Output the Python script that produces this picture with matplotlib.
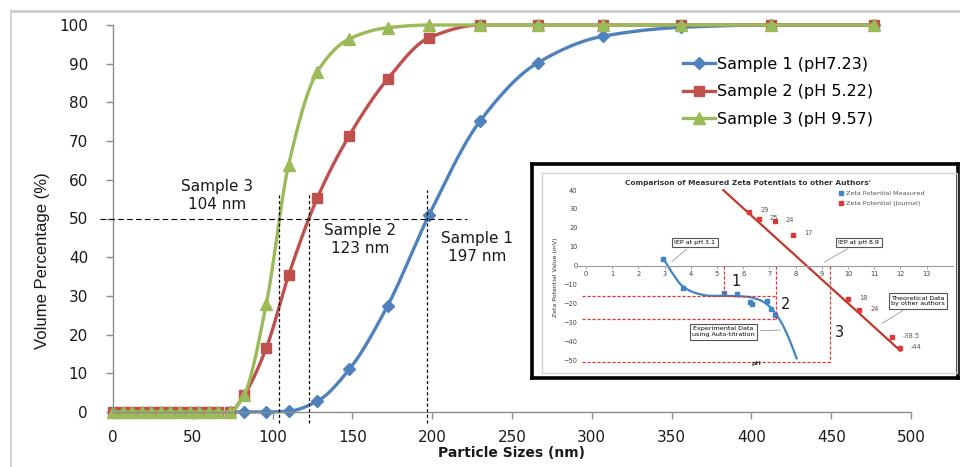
import matplotlib
matplotlib.use("Agg")
import matplotlib.pyplot as plt
import numpy as np
from matplotlib.lines import Line2D
from matplotlib.patches import Rectangle

BLUE = "#4f81bd"; RED = "#c0504d"; GREEN = "#9bbb59"; AXC = "#8c8c8c"; INK = "#1a1a1a"

# main chart: cumulative volume distribution
zero_sizes = [0, 6, 12, 18, 24, 30, 36, 42, 48, 54, 60, 66, 73]
sizes = [82, 96, 110, 128, 148, 172, 198, 230, 266, 307, 356, 412, 477]
sample1 = [0, 0, 0.2, 2.8, 11, 27.4, 50.9, 75.2, 90.2, 97.1, 99.4, 100, 100]
sample2 = [4.3, 16.5, 35.3, 55.3, 71.4, 86, 96.7, 100, 100, 100, 100, 100, 100]
sample3 = [4.3, 27.8, 63.8, 87.9, 96.4, 99.3, 100, 100, 100, 100, 100, 100, 100]
labels = ["Sample 1 (pH7.23)", "Sample 2 (pH 5.22)", "Sample 3 (pH 9.57)"]
d50 = [197, 123, 104]
d50_top = [57.4, 56.6, 56.1]
d50_text = ["Sample 1\n197 nm", "Sample 2\n123 nm", "Sample 3\n104 nm"]
d50_text_xy = [(228, 42.6), (155, 44.5), (65, 56)]

# inset: zeta potential vs pH
meas_ph = [2.93, 3.69, 5.28, 5.75, 6.26, 6.32, 6.92, 7.05, 7.21]
meas_mv = [3.7, -11.6, -14.3, -15.2, -19, -20, -18.5, -23, -26]
trend_ph = [2.95, 3.3, 3.7, 4.22, 4.73, 5.5, 6.13, 6.64, 7.02, 7.4, 7.72, 8.04]
trend_mv = [4, -4, -11, -14.6, -15.9, -16.0, -16.4, -18.2, -21.7, -28.7, -37.6, -49]
jour_ph = [6.22, 6.59, 7.21, 7.91, 9.99, 10.43, 11.67, 11.98]
jour_mv = [28.6, 24.5, 23.6, 16.4, -17.8, -23.5, -37.9, -43.7]
jour_lab = ["29", "25", "24", "17", "18", "24", "-38.5", "-44"]
jour_fit_ph = [5.24, 12.0]
jour_fit_mv = [40, -45]
box_mv = [-15.9, -28.2, -50.8]
box_ph = [5.28, 7.25, 9.31]
box_right = [7.2, 7.25, 9.31]
box_num = ["1", "2", "3"]
box_num_xy = [(5.73, -8.6), (7.63, -20.5), (9.67, -35.5)]


def smooth(x, y, n=40):
    # monotone cubic through the points (Excel-like smoothed line without overshoot)
    x = np.asarray(x, float); y = np.asarray(y, float)
    h = np.diff(x); d = np.diff(y) / h
    m = np.zeros_like(y); m[0] = d[0]; m[-1] = d[-1]
    for i in range(1, len(x) - 1):
        if d[i - 1] * d[i] <= 0:
            m[i] = 0
        else:
            w1 = 2 * h[i] + h[i - 1]; w2 = h[i] + 2 * h[i - 1]
            m[i] = (w1 + w2) / (w1 / d[i - 1] + w2 / d[i])
    t = np.linspace(0, 1, n)
    xs, ys = [], []
    for i in range(len(h)):
        h00 = 2 * t**3 - 3 * t**2 + 1; h10 = t**3 - 2 * t**2 + t
        h01 = -2 * t**3 + 3 * t**2; h11 = t**3 - t**2
        xs.append(x[i] + t * h[i])
        ys.append(h00 * y[i] + h10 * h[i] * m[i] + h01 * y[i + 1] + h11 * h[i] * m[i + 1])
    return np.concatenate(xs), np.concatenate(ys)


W, H = 960, 467
fig = plt.figure(figsize=(W / 100, H / 100), dpi=100)
fig.patch.set_facecolor("white")


def fx(px):
    return px / W


def fy(py):
    return 1 - py / H


ax = fig.add_axes([fx(113), fy(412), fx(911) - fx(113), fy(25) - fy(412)])
ax.set_xlim(0, 500); ax.set_ylim(0, 100)
for s in ("top", "right"):
    ax.spines[s].set_visible(False)
for s in ("left", "bottom"):
    ax.spines[s].set_color(AXC); ax.spines[s].set_linewidth(1.0)
ax.set_xticks(np.arange(0, 501, 50)); ax.set_yticks(np.arange(0, 101, 10))
ax.tick_params(axis="both", colors=AXC, labelcolor=INK, length=5, width=1.0, labelsize=11)
ax.tick_params(axis="y", pad=13)
ax.tick_params(axis="x", pad=8)

series = [
    ([zero_sizes[-1]] + sizes, [0] + sample1, BLUE, "D", 6.5),
    (zero_sizes + sizes, [0] * len(zero_sizes) + sample2, RED, "s", 7.5),
    (zero_sizes + sizes, [0] * len(zero_sizes) + sample3, GREEN, "^", 8.5),
]
handles = []
for (xv, yv, c, mk, ms), lab in zip(series, labels):
    sx, sy = smooth(xv, yv)
    ax.plot(sx, sy, color=c, lw=2.4, clip_on=False, solid_capstyle="round")
    ax.plot(xv, yv, ls="none", marker=mk, ms=ms, color=c, mec=c, clip_on=False)
    handles.append(Line2D([], [], color=c, lw=2.4, marker=mk, ms=ms, mec=c))

# d50 guides
ax.plot([-8, 222], [50, 50], ls=(0, (5, 3)), color="black", lw=0.8, clip_on=False, zorder=5)
for xd, top in zip(d50, d50_top):
    ax.plot([xd, xd], [-2.8, top], ls=(0, (2.5, 2)), color="black", lw=0.9, clip_on=False, zorder=5)
for txt, (tx, ty) in zip(d50_text, d50_text_xy):
    ax.text(tx, ty, txt, ha="center", va="center", fontsize=11, color=INK, linespacing=1.25)

leg = fig.legend(handles, labels, loc="upper left", bbox_to_anchor=(fx(683), fy(57)),
                 frameon=False, fontsize=11.5, borderpad=0, handlelength=2.0,
                 handletextpad=0.15, labelspacing=0.78, borderaxespad=0)

fig.text(fx(511), fy(453), "Particle Sizes (nm)", ha="center", va="center",
         fontsize=10, fontweight="bold", color=INK)
fig.text(fx(43), fy(261), "Volume Percentage (%)", ha="center", va="center", rotation=90,
         fontsize=12, family=["Liberation Sans Narrow", "Liberation Sans"], color=INK)

# page borders (top and left)
fig.add_artist(Line2D([fx(11), 1], [fy(11), fy(11)], color="#cccccc", lw=2))
fig.add_artist(Line2D([fx(11), fx(11)], [fy(11), 0], color="#cccccc", lw=1.2))

# ---------------- inset
frame = fig.add_axes([fx(532), fy(378), fx(958) - fx(532), fy(164) - fy(378)])
frame.set_xticks([]); frame.set_yticks([]); frame.set_facecolor("white")
for s in frame.spines.values():
    s.set_color("black"); s.set_linewidth(2.6)
fig.add_artist(Rectangle((fx(542), fy(373)), fx(957) - fx(542), fy(173) - fy(373),
                         transform=fig.transFigure, fill=False, ec="#d4d4d4", lw=1.0))

ax2 = fig.add_axes([fx(578.1), fy(365.9), fx(952.8) - fx(578.1), fy(186.3) - fy(365.9)])
ax2.patch.set_alpha(0)
ax2.set_xlim(-0.3, 14.0); ax2.set_ylim(-53, 42)
ax2.spines["top"].set_visible(False); ax2.spines["right"].set_visible(False)
ax2.spines["bottom"].set_position(("data", 0)); ax2.spines["bottom"].set_color("#9a9a9a")
ax2.spines["bottom"].set_linewidth(0.8)
ax2.spines["left"].set_position(("data", 0)); ax2.spines["left"].set_visible(False)
ax2.set_xticks(np.arange(0, 14, 1)); ax2.set_yticks(np.arange(-50, 41, 10))
ax2.tick_params(axis="x", length=2, width=0.6, colors="#9a9a9a", labelcolor="#444444",
                labelsize=4.8, pad=2)
ax2.tick_params(axis="y", length=0, labelcolor="#444444", labelsize=4.8, pad=6)

tx, ty = smooth(trend_ph, trend_mv, 30)
ax2.plot(tx, ty, color="#3f86c6", lw=1.6)
ax2.plot(meas_ph, meas_mv, ls="none", marker="s", ms=2.6, color="#3f86c6")
ax2.plot(jour_fit_ph, jour_fit_mv, color="#c0392b", lw=1.6)
ax2.plot(jour_ph, jour_mv, ls="none", marker="s", ms=2.8, color="#d93a3a")
for xp, yp, lb in zip(jour_ph, jour_mv, jour_lab):
    ax2.annotate(lb, (xp, yp), xytext=(8, 1), textcoords="offset points", fontsize=4.8,
                 color="#555555", va="center")

for yb, xb, xr in zip(box_mv, box_ph, box_right):
    ax2.plot([-0.17, xr], [yb, yb], ls=(0, (2.5, 1.5)), color="#e03030", lw=0.9, clip_on=False)
    ax2.plot([xb, xb], [0, yb], ls=(0, (2.5, 1.5)), color="#e03030", lw=0.9, clip_on=False)
for nm, (nx, ny) in zip(box_num, box_num_xy):
    ax2.text(nx, ny, nm, ha="center", va="center", fontsize=10.5, color=INK)

bb = dict(boxstyle="square,pad=0.35", fc="white", ec="#555555", lw=0.8)
ap = dict(arrowstyle="-", color="#999999", lw=0.6)
ax2.annotate("IEP at pH 3.1", xy=(3.2, 1.2), xytext=(4.16, 12.4), fontsize=4.6, ha="center",
             va="center", bbox=bb, arrowprops=ap, annotation_clip=False)
ax2.annotate("IEP at pH 8.9", xy=(9.0, 1.2), xytext=(10.42, 12.4), fontsize=4.6, ha="center",
             va="center", bbox=bb, arrowprops=ap, annotation_clip=False)
ax2.annotate("Experimental Data\nusing Auto-titration", xy=(7.53, -34), xytext=(5.24, -35),
             fontsize=4.6, ha="center", va="center", bbox=bb, arrowprops=ap,
             annotation_clip=False)
ax2.annotate("Theoretical Data\nby other authors", xy=(11.2, -31.4), xytext=(12.68, -18.7),
             fontsize=4.6, ha="center", va="center", bbox=bb, arrowprops=ap,
             annotation_clip=False)

fig.text(fx(748), fy(182.7), "Comparison of Measured Zeta Potentials to other Authors'",
         ha="center", va="center", fontsize=5.3, fontweight="bold", color="#333333")
fig.text(fx(555), fy(277), "Zeta Potential Value (mV)", ha="center", va="center",
         rotation=90, fontsize=4.4, color="#333333")
ax2.text(6.5, -51.7, "pH", ha="center", va="center", fontsize=4.6, fontweight="bold",
         color="#333333")

ih = [Line2D([], [], ls="none", marker="s", ms=2.6, color="#3f86c6"),
      Line2D([], [], ls="none", marker="s", ms=2.6, color="#d93a3a")]
fig.legend(ih, ["Zeta Potential Measured", "Zeta Potential (Journal)"], loc="upper left",
           bbox_to_anchor=(fx(838), fy(191)), frameon=False, fontsize=4.6, borderpad=0,
           handlelength=0.8, handletextpad=0.4, labelspacing=0.6, borderaxespad=0,
           labelcolor="#555555")

fig.savefig("out.png", dpi=100)
